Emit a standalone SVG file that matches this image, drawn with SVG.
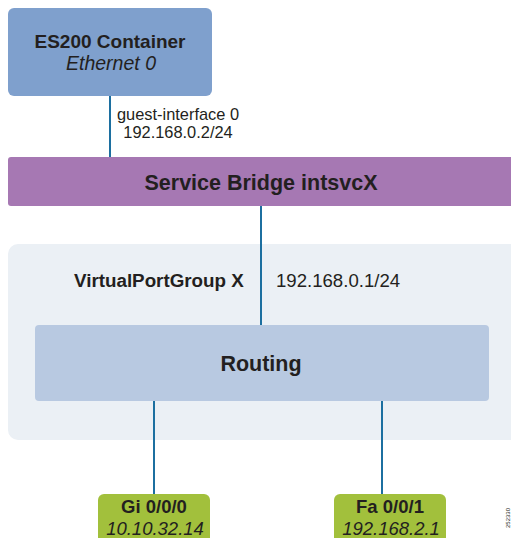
<svg xmlns="http://www.w3.org/2000/svg" width="511" height="538" viewBox="0 0 511 538">
<style>
text { font-family: "Liberation Sans", Arial, sans-serif; fill: #231f20; }
.b { font-weight: bold; }
.i { font-style: italic; }
.c { stroke: #1c6fa0; stroke-width: 2; fill: none; }
</style>
<rect width="511" height="538" fill="#ffffff"/>
<g id="vpg-area">
<rect x="8" y="244" width="515" height="196" rx="10" fill="#ebf0f5"/>
<text class="b" x="74" y="287" font-size="18.8">VirtualPortGroup X</text>
<text x="276" y="287" font-size="18.6">192.168.0.1/24</text>
</g>
<g id="connectors">
<line class="c" x1="110" y1="96" x2="110" y2="157"/>
<line class="c" x1="261" y1="206" x2="261" y2="325"/>
<line class="c" x1="154" y1="400" x2="154" y2="495"/>
<line class="c" x1="382" y1="400" x2="382" y2="495"/>
</g>
<g id="es200">
<rect x="8" y="8" width="204" height="88" rx="6" fill="#7fa0cd"/>
<text class="b" x="110" y="48" font-size="19" text-anchor="middle">ES200 Container</text>
<text class="i" x="111" y="70" font-size="19.5" text-anchor="middle">Ethernet 0</text>
</g>
<g id="guest-label">
<text x="178" y="120" font-size="16.4" text-anchor="middle">guest-interface 0</text>
<text x="178" y="138" font-size="16.4" text-anchor="middle">192.168.0.2/24</text>
</g>
<g id="service-bridge">
<rect x="8" y="157" width="515" height="49" rx="3" fill="#a678b3"/>
<text class="b" x="261" y="190" font-size="21.5" text-anchor="middle">Service Bridge intsvcX</text>
</g>
<g id="routing">
<rect x="35" y="325" width="454" height="76" rx="4" fill="#b8c9e1"/>
<text class="b" x="261" y="371" font-size="21.5" text-anchor="middle">Routing</text>
</g>
<g id="gi000">
<rect x="98" y="494" width="112" height="54" rx="6" fill="#a2c03c"/>
<text class="b" x="154" y="513" font-size="18.5" text-anchor="middle">Gi 0/0/0</text>
<text class="i" x="155" y="535" font-size="18.5" text-anchor="middle">10.10.32.14</text>
</g>
<g id="fa001">
<rect x="334" y="494" width="112" height="54" rx="6" fill="#a2c03c"/>
<text class="b" x="390" y="513" font-size="18.5" text-anchor="middle">Fa 0/0/1</text>
<text class="i" x="391" y="535" font-size="18.5" text-anchor="middle">192.168.2.1</text>
</g>
<text x="0" y="0" font-size="6" transform="translate(510,518) rotate(-90)" text-anchor="middle">252330</text>
</svg>
